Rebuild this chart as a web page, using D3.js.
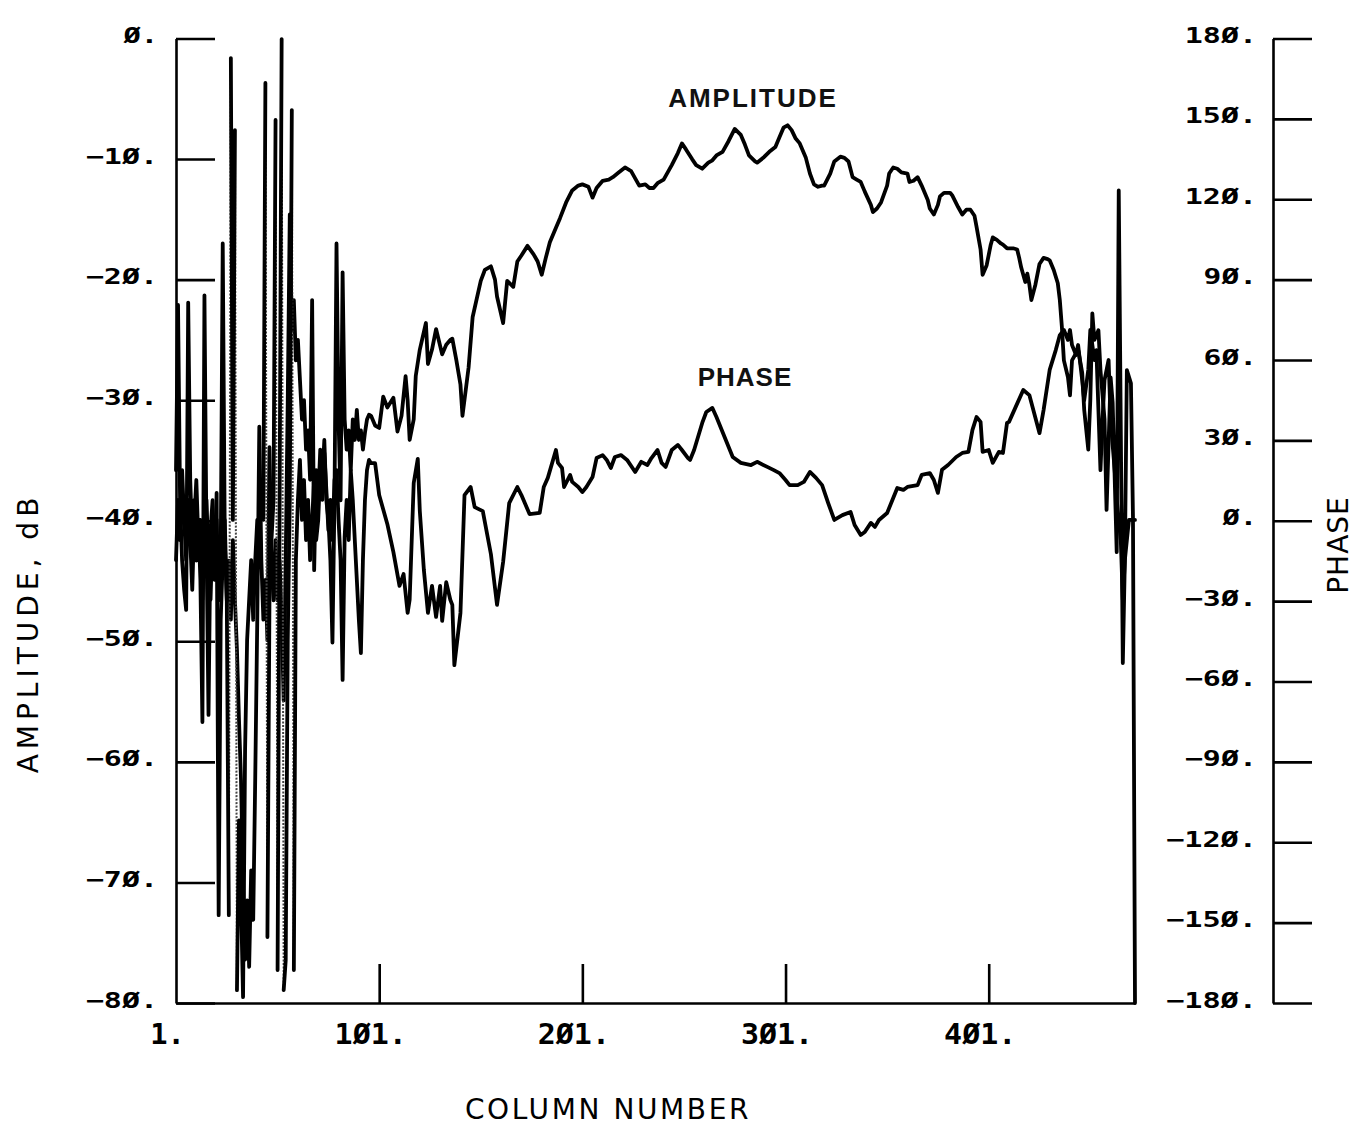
<!DOCTYPE html>
<html>
<head>
<meta charset="utf-8">
<script src="https://cdn.jsdelivr.net/npm/d3@7"></script>
<style>
  body { margin: 0; background: #fff; }
  svg { display: block; }
  .tick-y { font-family: "DejaVu Sans Mono", monospace; font-weight: bold; font-size: 22px; fill: #000; }
  .tick-x { font-family: "DejaVu Sans Mono", monospace; font-weight: bold; font-size: 28px; fill: #000; }
  .title { font-family: "DejaVu Sans", sans-serif; font-size: 28px; fill: #000; }
  .curve-label { font-family: "Liberation Sans", Arial, sans-serif; font-weight: bold; font-size: 26px; fill: #111; }
</style>
</head>
<body>
<svg id="chart" width="1355" height="1126"></svg>
<script>
// Axis tick values
const columnTicks = [1, 101, 201, 301, 401];
const amplitudeTicks = [0, -10, -20, -30, -40, -50, -60, -70, -80];
const phaseTicks = [180, 150, 120, 90, 60, 30, 0, -30, -60, -90, -120, -150, -180];

// Amplitude (dB) per column number
const amplitude = [
  [1,-35.8],[2,-22.1],[3,-38.3],[4,-43.3],[5,-45.7],[6,-47.4],[7,-21.9],[8,-36.6],[9,-41.6],[10,-38.3],
  [11,-43.3],[12,-39.9],[13,-44.9],[14,-56.7],[15,-21.3],[16,-41.6],[17,-56.1],[18,-40.8],[19,-38.3],[20,-43.3],
  [21,-39.9],[22,-46.6],[23,-43.3],[24,-17.0],[25,-41.6],[26,-46.6],[27,-43.3],[28,-48.2],[29,-41.6],[30,-46.6],
  [31,-50.7],[32,-56.5],[33,-61.5],[34,-69.8],[35,-76.4],[36,-71.5],[37,-77.0],[38,-69.0],[39,-73.1],[40,-61.3],
  [41,-48.2],[42,-32.2],[43,-43.3],[44,-48.2],[45,-44.9],[46,-49.9],[47,-33.9],[48,-43.3],[49,-46.6],[50,-41.6],
  [51,-46.6],[52,-43.3],[53,-48.2],[54,-54.9],[55,-43.3],[56,-30.0],[57,-14.6],[58,-24.2],[59,-21.7],[60,-26.7],
  [61,-25.0],[62,-28.3],[63,-31.6],[64,-30.0],[65,-34.1],[66,-32.5],[67,-36.6],[68,-21.7],[69,-44.1],[70,-35.8],
  [71,-38.3],[72,-34.1],[73,-36.6],[74,-33.3],[75,-38.3],[76,-39.9],[77,-43.3],[78,-50.1],[79,-38.3],[80,-17.0],
  [81,-31.6],[82,-38.3],[83,-19.4],[84,-31.6],[85,-34.1],[86,-32.5],[87,-35.8],[88,-31.6],[89,-33.3],[90,-30.8],
  [91,-33.3],[92,-32.5],[93,-34.1],[94,-32.7],[95,-31.6],[96,-31.2],[97,-31.3],[99,-32.1],[101,-32.3],[103,-29.7],
  [105,-30.6],[108,-29.8],[110,-32.6],[112,-31.3],[114,-28.0],[115,-30.0],[116,-33.3],[118,-31.6],[119,-28.0],[121,-25.8],
  [124,-23.6],[125,-27.0],[127,-25.8],[129,-24.1],[132,-26.2],[134,-25.4],[136,-25.0],[137,-24.9],[139,-26.7],[141,-28.7],
  [142,-31.3],[145,-27.3],[147,-23.1],[151,-20.1],[153,-19.2],[156,-18.9],[158,-20.0],[159,-21.4],[162,-23.6],[164,-20.1],
  [167,-20.6],[169,-18.5],[171,-18.0],[174,-17.2],[177,-17.9],[179,-18.5],[181,-19.6],[183,-18.2],[185,-16.9],[188,-15.7],
  [190,-14.9],[193,-13.6],[196,-12.6],[199,-12.2],[201,-12.1],[204,-12.3],[206,-13.2],[208,-12.4],[211,-11.8],[214,-11.7],
  [216,-11.5],[219,-11.1],[222,-10.7],[223,-10.8],[225,-11.0],[227,-11.6],[229,-12.2],[232,-12.1],[234,-12.4],[236,-12.4],
  [238,-12.0],[241,-11.7],[243,-11.1],[245,-10.5],[248,-9.5],[250,-8.7],[252,-9.2],[255,-10.0],[257,-10.5],[260,-10.8],
  [263,-10.3],[265,-10.1],[267,-9.7],[270,-9.4],[273,-8.5],[276,-7.5],[279,-8.0],[281,-8.8],[283,-9.7],[286,-10.2],
  [287,-10.3],[290,-9.9],[293,-9.4],[296,-9.0],[298,-8.2],[300,-7.4],[302,-7.2],[304,-7.6],[306,-8.3],[308,-8.7],
  [311,-9.9],[313,-11.2],[315,-12.1],[317,-12.3],[319,-12.2],[320,-12.2],[323,-11.2],[325,-10.2],[328,-9.8],[330,-9.9],
  [332,-10.2],[334,-11.5],[336,-11.7],[338,-11.9],[340,-12.7],[343,-13.8],[344,-14.4],[346,-14.1],[348,-13.6],[351,-12.2],
  [352,-11.2],[354,-10.7],[356,-10.8],[358,-11.1],[361,-11.2],[362,-11.9],[364,-11.8],[366,-11.5],[368,-12.2],[371,-13.4],
  [372,-14.1],[374,-14.6],[376,-13.8],[377,-13.1],[379,-12.8],[382,-12.8],[383,-13.0],[386,-14.0],[388,-14.6],[390,-14.2],
  [392,-14.2],[394,-14.7],[395,-15.6],[397,-17.5],[398,-19.6],[400,-18.8],[402,-17.1],[403,-16.5],[405,-16.7],[407,-17.0],
  [408,-17.1],[410,-17.4],[413,-17.4],[415,-17.5],[416,-18.2],[417,-19.0],[419,-20.2],[420,-19.5],[421,-20.4],[422,-21.7],
  [424,-20.4],[426,-18.7],[428,-18.2],[430,-18.3],[431,-18.4],[433,-19.2],[435,-20.3],[436,-21.7],[437,-23.9],[438,-26.7],
  [440,-28.1],[441,-29.6],[442,-26.7],[445,-25.8],[447,-27.7],[448,-30.8],[450,-34.1],[451,-30.0],[452,-22.8],[453,-25.0],
  [455,-24.2],[456,-27.5],[458,-31.6],[459,-39.1],[461,-28.1],[462,-30.2],[464,-42.6],[465,-12.6],[467,-51.8],[468,-43.3],
  [469,-27.5],[471,-28.6],[472,-39.7],[473,-80.0]
];

// Phase (degrees) per column number
const phase = [
  [1,-14.7],[2,7.8],[3,-7.2],[4,18.9],[5,0.3],[6,-14.7],[7,7.8],[8,-7.2],[9,-25.8],[10,0.3],
  [11,15.2],[12,-7.2],[13,0.3],[14,-29.5],[15,-7.2],[16,7.8],[17,-14.7],[18,-29.5],[19,-3.5],[20,-22.1],
  [21,10.4],[22,-147.2],[23,-37.0],[24,-14.7],[25,0.3],[26,-29.5],[27,-147.2],[28,172.7],[29,0.3],[30,145.8],
  [31,-175.2],[32,-111.8],[33,-141.6],[34,-177.8],[35,-85.6],[36,-44.5],[37,-29.5],[38,-14.7],[39,-37.0],[40,-14.7],
  [41,0.3],[42,-7.2],[43,15.2],[44,0.3],[45,163.4],[46,-155.4],[47,-29.5],[48,-7.2],[49,7.8],[50,149.6],
  [51,-167.7],[52,7.8],[53,179.8],[54,-175.2],[55,-164.0],[56,-44.5],[57,7.8],[58,153.3],[59,-167.7],[60,-14.7],
  [61,7.8],[62,22.7],[63,0.3],[64,15.2],[65,-7.2],[66,7.8],[67,-14.7],[68,0.3],[69,15.2],[70,-7.2],
  [71,0.3],[72,18.9],[73,7.8],[74,25.3],[75,11.5],[76,-3.5],[77,7.8],[78,-7.2],[79,15.2],[80,18.9],
  [81,0.3],[82,-14.7],[83,-59.4],[84,-6.1],[85,7.8],[86,-7.2],[87,18.9],[88,7.8],[89,-7.2],[90,-22.1],
  [91,-37.0],[92,-49.4],[93,-14.7],[94,7.8],[95,18.9],[96,22.7],[97,21.5],[99,21.5],[101,9.6],[105,-1.2],
  [108,-11.7],[111,-24.3],[113,-19.9],[115,-34.4],[116,-29.5],[118,14.1],[120,23.1],[121,3.6],[123,-18.4],[125,-34.4],
  [127,-24.3],[129,-35.9],[131,-24.3],[132,-37.4],[134,-22.9],[136,-29.5],[137,-31.4],[138,-53.9],[141,-34.4],[143,9.6],
  [146,12.6],[148,5.1],[152,3.6],[156,-12.5],[159,-31.4],[162,-15.4],[165,6.6],[169,12.6],[171,9.6],[175,2.5],
  [180,2.9],[182,12.6],[184,16.0],[188,26.4],[189,21.6],[191,19.7],[192,12.6],[195,17.1],[196,14.5],[199,12.6],
  [201,10.7],[203,12.6],[206,16.3],[208,23.4],[211,24.5],[213,22.7],[215,19.7],[217,23.8],[220,24.5],[223,22.7],
  [227,18.2],[230,22.0],[233,20.8],[235,23.4],[238,26.4],[240,21.6],[242,20.1],[245,26.4],[248,28.3],[250,26.4],
  [253,23.4],[254,22.7],[256,26.4],[260,36.5],[262,40.6],[265,42.1],[267,38.7],[270,33.1],[273,27.5],[275,23.8],
  [279,21.6],[284,20.8],[287,22.0],[292,20.1],[295,19.0],[298,17.8],[301,15.2],[303,13.3],[307,13.3],[310,14.5],
  [313,18.2],[316,16.0],[319,13.3],[322,6.6],[325,0.3],[329,2.1],[333,3.3],[335,-1.6],[338,-5.3],[340,-4.2],
  [343,-0.8],[345,-2.3],[347,0.3],[351,2.9],[356,12.2],[359,11.5],[361,12.6],[366,13.3],[368,17.1],[372,17.8],
  [374,15.2],[376,10.4],[378,19.0],[381,20.8],[385,23.8],[388,25.3],[391,25.7],[393,33.9],[395,38.7],[397,36.9],
  [398,25.7],[401,26.4],[403,21.6],[406,25.7],[408,25.3],[410,36.5],[411,36.9],[418,48.8],[421,46.9],[426,32.7],
  [428,41.3],[431,56.3],[434,63.7],[436,69.3],[438,71.2],[440,67.5],[441,71.2],[442,65.6],[444,61.9],[445,65.6],
  [447,52.5],[448,45.0],[450,56.3],[451,71.2],[453,60.0],[454,63.7],[456,18.9],[457,37.6],[458,52.5],[460,60.0],
  [461,37.6],[463,18.9],[464,7.8],[466,-7.2],[467,-29.5],[468,-14.7],[470,0.3],[471,0.3],[473,0.3]
];

const svg = d3.select("#chart");
const plot = { left: 176, right: 1135, top: 38.5, bottom: 1003 };
const phaseAxisX = 1273;
const tickLen = 39;
const charPitch = 18.8;   // plotter character pitch for numeric labels

const x = d3.scaleLinear().domain([1, 473]).range([plot.left, plot.right]);
const yAmp = d3.scaleLinear().domain([-80, 0]).range([plot.bottom, plot.top]);
const yPh = d3.scaleLinear().domain([-180, 180]).range([plot.bottom, plot.top]);

// plotter-style numbers: slashed zero, trailing period
const fmt = d => (String(d) + ".").replace(/0/g, "\u00D8").replace("-", "\u2212");

function styleAxis(g, cls) {
  g.attr("font-size", null).attr("font-family", null);
  g.selectAll("path.domain").attr("stroke", "#000").attr("stroke-width", 2.6);
  g.selectAll(".tick line").attr("stroke", "#000").attr("stroke-width", 2.6);
  g.selectAll(".tick text")
    .attr("class", cls)
    .attr("lengthAdjust", "spacingAndGlyphs")
    .attr("textLength", function () { return this.textContent.length * charPitch - 3; });
}

// amplitude axis (left)
const gA = svg.append("g").attr("transform", `translate(${plot.left},0)`)
  .call(d3.axisLeft(yAmp).tickValues(amplitudeTicks).tickSize(-tickLen).tickSizeOuter(0)
    .tickPadding(18).tickFormat(fmt));
styleAxis(gA, "tick-y");
gA.selectAll(".tick text").attr("y", -3);

// column axis (bottom)
const gX = svg.append("g").attr("transform", `translate(0,${plot.bottom})`)
  .call(d3.axisBottom(x).tickValues(columnTicks).tickSize(-tickLen).tickSizeOuter(0)
    .tickPadding(21).tickFormat(fmt));
styleAxis(gX, "tick-x");
gX.selectAll(".tick text").attr("dx", -9);
gX.selectAll(".tick").filter(d => d === 1).select("line").remove();

// phase axis (separate, right)
const gP = svg.append("g").attr("transform", `translate(${phaseAxisX},0)`)
  .call(d3.axisLeft(yPh).tickValues(phaseTicks).tickSize(-tickLen).tickSizeOuter(0)
    .tickPadding(16).tickFormat(fmt));
styleAxis(gP, "tick-y");
gP.selectAll(".tick text").attr("y", -3);

// axis titles
svg.append("text").attr("class", "title")
  .attr("transform", "translate(38,633) rotate(-90)")
  .attr("text-anchor", "middle").attr("letter-spacing", 5)
  .text("AMPLITUDE, dB");
svg.append("text").attr("class", "title")
  .attr("x", 608).attr("y", 1119)
  .attr("text-anchor", "middle").attr("letter-spacing", 2.6)
  .text("COLUMN NUMBER");
svg.append("text").attr("class", "title")
  .attr("transform", "translate(1348,545) rotate(-90)")
  .attr("text-anchor", "middle").attr("letter-spacing", 1)
  .text("PHASE");

// curves
const lineAmp = d3.line().x(d => x(d[0])).y(d => yAmp(d[1]));
const linePh = d3.line().x(d => x(d[0])).y(d => yPh(d[1]));

svg.append("path").datum(amplitude)
  .attr("d", lineAmp).attr("fill", "none").attr("stroke", "#000")
  .attr("stroke-width", 3.8).attr("stroke-linejoin", "round").attr("stroke-linecap", "round");

// phase: split at ±180° wraps; the wrap strokes are drawn faint
const runs = [];
const wraps = [];
let run = [phase[0]];
for (let i = 1; i < phase.length; i++) {
  if (Math.abs(phase[i][1] - phase[i - 1][1]) > 200) {
    runs.push(run);
    wraps.push([phase[i - 1], phase[i]]);
    run = [phase[i]];
  } else {
    run.push(phase[i]);
  }
}
runs.push(run);

svg.append("g").selectAll("path.wrap").data(wraps).join("path")
  .attr("class", "wrap")
  .attr("d", linePh).attr("fill", "none").attr("stroke", "#444")
  .attr("stroke-width", 2).attr("stroke-dasharray", "2 1.5");

svg.append("g").selectAll("path.run").data(runs).join("path")
  .attr("class", "run")
  .attr("d", linePh).attr("fill", "none").attr("stroke", "#000")
  .attr("stroke-width", 3.8).attr("stroke-linejoin", "round").attr("stroke-linecap", "round");

// curve labels
svg.append("text").attr("class", "curve-label")
  .attr("x", 753).attr("y", 107).attr("text-anchor", "middle").attr("letter-spacing", 2)
  .text("AMPLITUDE");
svg.append("text").attr("class", "curve-label")
  .attr("x", 745).attr("y", 386).attr("text-anchor", "middle").attr("letter-spacing", 1)
  .text("PHASE");
</script>
</body>
</html>
